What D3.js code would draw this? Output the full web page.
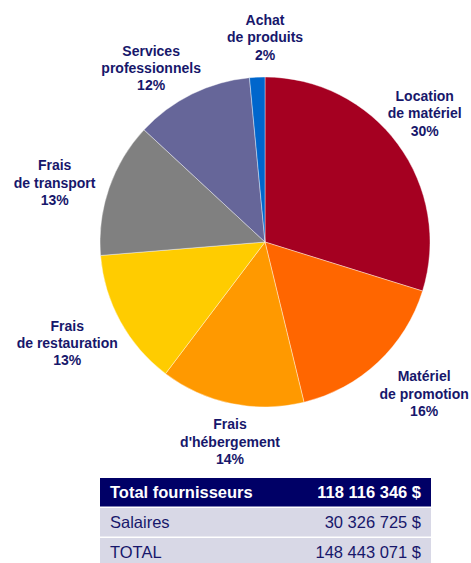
<!DOCTYPE html>
<html><head><meta charset="utf-8">
<script src="https://cdn.jsdelivr.net/npm/d3@7"></script>
<style>html,body{margin:0;padding:0;background:#fff;}svg{display:block;}</style>
</head><body>
<svg id="chart" width="471" height="563"></svg>
<script>
// ---- data ----
const categories = ["Location de matériel", "Matériel de promotion", "Frais d'hébergement", "Frais de restauration", "Frais de transport", "Services professionnels", "Achat de produits"];
const labelLines = [["Location", "de matériel"], ["Matériel", "de promotion"], ["Frais", "d'hébergement"], ["Frais", "de restauration"], ["Frais", "de transport"], ["Services", "professionnels"], ["Achat", "de produits"]];
const shares = [29.8, 16.4, 14.1, 13.4, 13.2, 11.6, 1.5];
const tableLabels = ["Total fournisseurs", "Salaires", "TOTAL"];
const tableValues = ["118 116 346 $", "30 326 725 $", "148 443 071 $"];

// ---- layout / style ----
const colors = ["#A50021", "#FF6600", "#FF9900", "#FFCC00", "#808080", "#666699", "#0066CC"];
const cx = 265, cy = 242, R = 165, labelR = 212;
const nudge = [[-11,-3],[14,-3],[8,-8],[-12,-1],[-10,10],[-20,16],[10,7]];
const textColor = "#17176B";

const svg = d3.select("#chart");
const g = svg.append("g").attr("transform", `translate(${cx},${cy})`);
const pie = d3.pie().sort(null).value(d => d)(shares);
const arc = d3.arc().innerRadius(0).outerRadius(R);
const labelArc = d3.arc().innerRadius(labelR).outerRadius(labelR);
const color = d3.scaleOrdinal().domain(categories).range(colors);

g.selectAll("path.slice").data(pie).join("path")
  .attr("class", "slice")
  .attr("d", arc)
  .attr("fill", (d, i) => color(categories[i]))
  .attr("stroke", "#ffffff").attr("stroke-width", 0.4);

const lab = g.selectAll("text.lab").data(pie).join("text")
  .attr("class", "lab")
  .attr("text-anchor", "middle")
  .attr("font-family", "Liberation Sans, Arial, sans-serif")
  .attr("font-weight", "bold")
  .attr("font-size", "14px")
  .attr("fill", textColor)
  .attr("transform", (d, i) => {
    const c = labelArc.centroid(d);
    return `translate(${c[0] + nudge[i][0]},${c[1] + nudge[i][1]})`;
  });
lab.each(function(d, i) {
  const t = d3.select(this);
  const lines = labelLines[i].concat([Math.round(shares[i]) + "%"]);
  lines.forEach((s, k) => {
    t.append("tspan").attr("x", 0).attr("y", (k - 1) * 17.3 + 5).text(s);
  });
});

// ---- table ----
const tx0 = 100, tx1 = 431, ty0 = 478, rowStep = 30, rowH = 28.5;
const y = d3.scaleLinear().domain([0, 1]).range([ty0, ty0 + rowStep]);
const rows = svg.selectAll("g.row").data(tableLabels).join("g").attr("class", "row")
  .attr("transform", (d, i) => `translate(0,${y(i)})`);
rows.append("rect").attr("x", tx0).attr("y", 0).attr("width", tx1 - tx0).attr("height", rowH)
  .attr("fill", (d, i) => i === 0 ? "#000066" : "#D8D8E6");
rows.append("text").attr("x", 110).attr("y", rowH / 2 + 6)
  .attr("font-family", "Liberation Sans, Arial, sans-serif")
  .attr("font-size", "16.5px")
  .attr("font-weight", (d, i) => i === 0 ? "bold" : "normal")
  .attr("fill", (d, i) => i === 0 ? "#ffffff" : textColor)
  .text(d => d);
rows.append("text").attr("x", 421).attr("y", rowH / 2 + 6)
  .attr("text-anchor", "end")
  .attr("font-family", "Liberation Sans, Arial, sans-serif")
  .attr("font-size", "16.5px")
  .attr("font-weight", (d, i) => i === 0 ? "bold" : "normal")
  .attr("fill", (d, i) => i === 0 ? "#ffffff" : textColor)
  .text((d, i) => tableValues[i]);
</script>
</body></html>
